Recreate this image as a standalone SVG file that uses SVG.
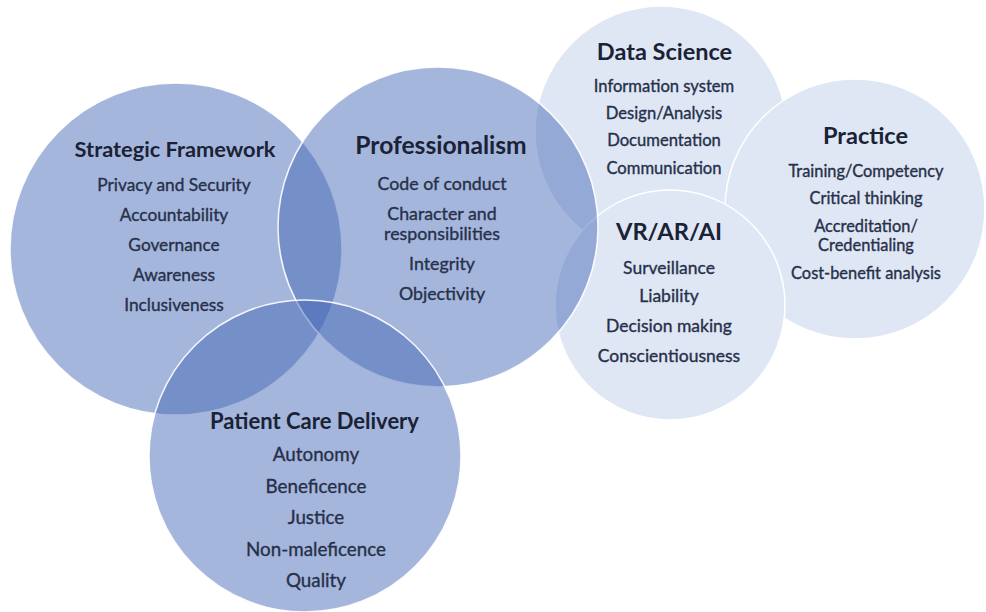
<svg xmlns="http://www.w3.org/2000/svg" width="986" height="612" viewBox="0 0 986 612">
  <style>
    .light { fill: #dfe7f4; stroke: #ffffff; stroke-width: 1.5; }
    .blue { fill: #3f63b5; fill-opacity: 0.47; stroke: #ffffff; stroke-width: 1.5; stroke-opacity: 0.9; }
    text { font-family: Lato, "Open Sans", "Liberation Sans", sans-serif; text-anchor: middle; }
    .title { font-weight: 700; fill: #1a2236; }
    .item { fill: #27304a; stroke: #27304a; stroke-width: 0.35; }
  </style>
  <rect width="986" height="612" fill="#ffffff"/>

  <!-- outer, pale topic circles -->
  <g id="data-science">
    <circle class="light" cx="661" cy="132" r="126"/>
  </g>
  <g id="practice">
    <circle class="light" cx="855" cy="209" r="130"/>
  </g>
  <g id="vr-ar-ai">
    <circle class="light" cx="670" cy="305" r="115"/>
  </g>

  <!-- core, translucent circles -->
  <g id="strategic-framework">
    <circle class="blue" cx="176" cy="249" r="166"/>
  </g>
  <g id="professionalism">
    <circle class="blue" cx="438" cy="227" r="160"/>
  </g>
  <g id="patient-care-delivery">
    <circle class="blue" cx="305" cy="456" r="156"/>
  </g>

  <!-- labels -->
  <g id="labels-strategic-framework">
    <text class="title" x="175" y="157" font-size="21.8">Strategic Framework</text>
    <text class="item" x="174" y="190.5" font-size="17.3">Privacy and Security</text>
    <text class="item" x="174" y="220.5" font-size="17.3">Accountability</text>
    <text class="item" x="174" y="250.5" font-size="17.3">Governance</text>
    <text class="item" x="174" y="280.5" font-size="17.3">Awareness</text>
    <text class="item" x="174" y="310.5" font-size="17.3">Inclusiveness</text>
  </g>
  <g id="labels-professionalism">
    <text class="title" x="441" y="154" font-size="24.6">Professionalism</text>
    <text class="item" x="442" y="189.5" font-size="17.8">Code of conduct</text>
    <text class="item" x="442" y="219.5" font-size="17.8">Character and</text>
    <text class="item" x="442" y="239.5" font-size="17.8">responsibilities</text>
    <text class="item" x="442" y="269.5" font-size="17.8">Integrity</text>
    <text class="item" x="442" y="299.5" font-size="17.8">Objectivity</text>
  </g>
  <g id="labels-patient-care-delivery">
    <text class="title" x="314.5" y="429" font-size="22">Patient Care Delivery</text>
    <text class="item" x="316" y="461" font-size="18.8">Autonomy</text>
    <text class="item" x="316" y="492.5" font-size="18.8">Beneficence</text>
    <text class="item" x="316" y="524" font-size="18.8">Justice</text>
    <text class="item" x="316" y="555.5" font-size="18.8">Non-maleficence</text>
    <text class="item" x="316" y="587" font-size="18.8">Quality</text>
  </g>
  <g id="labels-data-science">
    <text class="title" x="664.5" y="59.5" font-size="23.5">Data Science</text>
    <text class="item" x="664" y="92" font-size="16.6">Information system</text>
    <text class="item" x="664" y="119" font-size="16.6">Design/Analysis</text>
    <text class="item" x="664" y="146" font-size="16.6">Documentation</text>
    <text class="item" x="664" y="173.5" font-size="16.6">Communication</text>
  </g>
  <g id="labels-practice">
    <text class="title" x="865.5" y="144" font-size="23.5">Practice</text>
    <text class="item" x="866" y="177" font-size="16.4">Training/Competency</text>
    <text class="item" x="866" y="204" font-size="16.4">Critical thinking</text>
    <text class="item" x="866" y="232" font-size="16.4">Accreditation/</text>
    <text class="item" x="866" y="251" font-size="16.4">Credentialing</text>
    <text class="item" x="866" y="279" font-size="16.4">Cost-benefit analysis</text>
  </g>
  <g id="labels-vr-ar-ai">
    <text class="title" x="669" y="240" font-size="23.7">VR/AR/AI</text>
    <text class="item" x="669" y="273.5" font-size="17.5">Surveillance</text>
    <text class="item" x="669" y="302" font-size="17.5">Liability</text>
    <text class="item" x="669" y="332" font-size="17.5">Decision making</text>
    <text class="item" x="669" y="362" font-size="17.5">Conscientiousness</text>
  </g>

  <!-- no connectors in this figure -->
  <g id="connectors"/>
</svg>
